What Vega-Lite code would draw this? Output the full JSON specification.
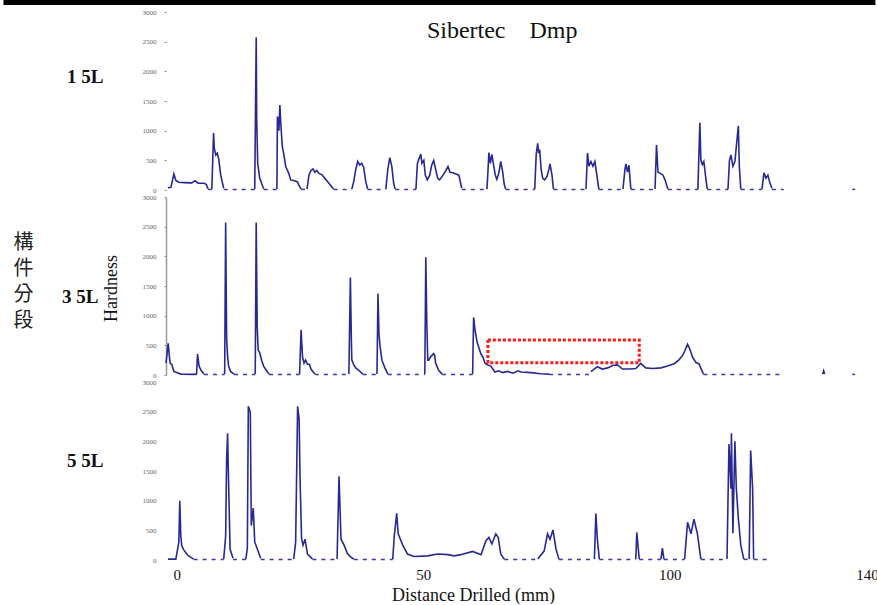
{
  "$schema": "https://vega.github.io/schema/vega-lite/v6.json",
  "padding": 0,
  "autosize": {"type": "pad"},
  "background": "white",
  "spacing": 0,
  "config": {
    "view": {"stroke": null},
    "font": "Liberation Serif",
    "axis": {"grid": false, "labelFont": "Liberation Serif", "titleFont": "Liberation Serif"}
  },
  "datasets": {
    "d": [
      {"s":1,"x":-1.8,"v":40},{"s":1,"x":-1.2,"v":45},{"s":1,"x":-0.6,"v":270},{"s":1,"x":-0.2,"v":160},{"s":1,"x":0.4,"v":130},{"s":1,"x":1.5,"v":125},{"s":1,"x":3,"v":120},{"s":1,"x":3.7,"v":155},{"s":1,"x":4.3,"v":115},{"s":1,"x":5.5,"v":115},{"s":1,"x":6.0,"v":90},{"s":1,"x":6.3,"v":20},
      {"s":1,"x":7.1,"v":15},{"s":1,"x":7.45,"v":960},{"s":1,"x":7.6,"v":700},{"s":1,"x":7.9,"v":590},{"s":1,"x":8.2,"v":620},{"s":1,"x":8.5,"v":520},{"s":1,"x":8.9,"v":250},{"s":1,"x":9.5,"v":30},
      {"s":1,"x":15.8,"v":15},{"s":1,"x":16.1,"v":2575},{"s":1,"x":16.2,"v":1200},{"s":1,"x":16.4,"v":455},{"s":1,"x":16.8,"v":200},{"s":1,"x":17.6,"v":20},
      {"s":1,"x":20.3,"v":15},{"s":1,"x":20.4,"v":1240},{"s":1,"x":20.7,"v":1000},{"s":1,"x":20.9,"v":1430},{"s":1,"x":21.1,"v":1100},{"s":1,"x":21.4,"v":730},{"s":1,"x":21.7,"v":600},{"s":1,"x":22.1,"v":390},{"s":1,"x":22.7,"v":280},{"s":1,"x":23.1,"v":170},{"s":1,"x":23.7,"v":160},{"s":1,"x":24.5,"v":135},{"s":1,"x":24.7,"v":90},{"s":1,"x":25.2,"v":15},
      {"s":1,"x":26.4,"v":15},{"s":1,"x":26.8,"v":250},{"s":1,"x":27.2,"v":330},{"s":1,"x":27.6,"v":355},{"s":1,"x":28.0,"v":300},{"s":1,"x":28.4,"v":330},{"s":1,"x":28.8,"v":280},{"s":1,"x":29.4,"v":260},{"s":1,"x":30.0,"v":200},{"s":1,"x":30.8,"v":120},{"s":1,"x":31.8,"v":15},
      {"s":1,"x":35.5,"v":15},{"s":1,"x":35.9,"v":150},{"s":1,"x":36.3,"v":350},{"s":1,"x":36.7,"v":480},{"s":1,"x":37.1,"v":420},{"s":1,"x":37.5,"v":450},{"s":1,"x":37.9,"v":380},{"s":1,"x":38.3,"v":150},{"s":1,"x":38.7,"v":15},
      {"s":1,"x":42.4,"v":15},{"s":1,"x":42.8,"v":350},{"s":1,"x":43.2,"v":545},{"s":1,"x":43.6,"v":400},{"s":1,"x":44.0,"v":100},{"s":1,"x":44.3,"v":15},
      {"s":1,"x":48.5,"v":15},{"s":1,"x":48.8,"v":450},{"s":1,"x":49.1,"v":520},{"s":1,"x":49.5,"v":605},{"s":1,"x":49.7,"v":450},{"s":1,"x":50.1,"v":500},{"s":1,"x":50.4,"v":250},{"s":1,"x":50.8,"v":170},{"s":1,"x":51.3,"v":250},{"s":1,"x":51.7,"v":420},{"s":1,"x":52.1,"v":495},{"s":1,"x":52.5,"v":350},{"s":1,"x":52.9,"v":200},{"s":1,"x":53.3,"v":170},{"s":1,"x":54.0,"v":250},{"s":1,"x":54.6,"v":330},{"s":1,"x":55.0,"v":395},{"s":1,"x":55.4,"v":300},{"s":1,"x":56.0,"v":290},{"s":1,"x":56.6,"v":270},{"s":1,"x":57.2,"v":250},{"s":1,"x":57.8,"v":30},
      {"s":1,"x":62.9,"v":15},{"s":1,"x":63.1,"v":300},{"s":1,"x":63.3,"v":630},{"s":1,"x":63.6,"v":450},{"s":1,"x":63.9,"v":600},{"s":1,"x":64.3,"v":400},{"s":1,"x":64.6,"v":250},{"s":1,"x":64.9,"v":180},{"s":1,"x":65.3,"v":280},{"s":1,"x":65.7,"v":480},{"s":1,"x":66.1,"v":300},{"s":1,"x":66.4,"v":100},{"s":1,"x":66.7,"v":15},
      {"s":1,"x":72.6,"v":15},{"s":1,"x":72.9,"v":600},{"s":1,"x":73.2,"v":785},{"s":1,"x":73.4,"v":620},{"s":1,"x":73.6,"v":680},{"s":1,"x":73.9,"v":350},{"s":1,"x":74.2,"v":200},{"s":1,"x":74.6,"v":170},{"s":1,"x":75.1,"v":230},{"s":1,"x":75.5,"v":360},{"s":1,"x":75.7,"v":440},{"s":1,"x":76.1,"v":250},{"s":1,"x":76.4,"v":15},
      {"s":1,"x":83.0,"v":15},{"s":1,"x":83.3,"v":625},{"s":1,"x":83.6,"v":400},{"s":1,"x":84.0,"v":480},{"s":1,"x":84.4,"v":400},{"s":1,"x":84.8,"v":480},{"s":1,"x":85.2,"v":250},{"s":1,"x":85.6,"v":15},
      {"s":1,"x":90.5,"v":15},{"s":1,"x":90.9,"v":350},{"s":1,"x":91.1,"v":440},{"s":1,"x":91.4,"v":300},{"s":1,"x":91.7,"v":420},{"s":1,"x":92.1,"v":15},
      {"s":1,"x":97.0,"v":15},{"s":1,"x":97.3,"v":760},{"s":1,"x":97.6,"v":300},{"s":1,"x":98.0,"v":285},{"s":1,"x":98.6,"v":250},{"s":1,"x":99.0,"v":180},{"s":1,"x":99.6,"v":15},
      {"s":1,"x":105.7,"v":15},{"s":1,"x":105.9,"v":600},{"s":1,"x":106.1,"v":1135},{"s":1,"x":106.3,"v":500},{"s":1,"x":106.6,"v":430},{"s":1,"x":106.9,"v":480},{"s":1,"x":107.3,"v":200},{"s":1,"x":107.6,"v":15},
      {"s":1,"x":111.8,"v":15},{"s":1,"x":112.1,"v":500},{"s":1,"x":112.4,"v":590},{"s":1,"x":112.8,"v":400},{"s":1,"x":113.2,"v":480},{"s":1,"x":113.9,"v":1080},{"s":1,"x":114.1,"v":400},{"s":1,"x":114.4,"v":15},
      {"s":1,"x":118.7,"v":15},{"s":1,"x":119.0,"v":220},{"s":1,"x":119.1,"v":290},{"s":1,"x":119.5,"v":200},{"s":1,"x":119.9,"v":250},{"s":1,"x":120.3,"v":120},{"s":1,"x":120.7,"v":30},
      {"s":1,"x":6.7,"v":null},{"s":1,"x":12.6,"v":null},{"s":1,"x":19.0,"v":null},{"s":1,"x":25.8,"v":null},{"s":1,"x":33.6,"v":null},{"s":1,"x":40.5,"v":null},{"s":1,"x":46.4,"v":null},{"s":1,"x":60.3,"v":null},{"s":1,"x":69.6,"v":null},{"s":1,"x":79.7,"v":null},{"s":1,"x":88.0,"v":null},{"s":1,"x":94.5,"v":null},{"s":1,"x":102.6,"v":null},{"s":1,"x":109.7,"v":null},{"s":1,"x":116.5,"v":null},

      {"s":3,"x":-2.2,"v":200},{"s":3,"x":-1.75,"v":535},{"s":3,"x":-1.5,"v":300},{"s":3,"x":-1.35,"v":200},{"s":3,"x":-1.0,"v":170},{"s":3,"x":-0.6,"v":60},{"s":3,"x":0.8,"v":15},{"s":3,"x":3.9,"v":10},
      {"s":3,"x":4.0,"v":20},{"s":3,"x":4.2,"v":355},{"s":3,"x":4.5,"v":150},{"s":3,"x":4.9,"v":80},{"s":3,"x":5.5,"v":15},
      {"s":3,"x":9.7,"v":15},{"s":3,"x":9.9,"v":2570},{"s":3,"x":10.1,"v":600},{"s":3,"x":10.3,"v":310},{"s":3,"x":10.5,"v":150},{"s":3,"x":10.9,"v":60},{"s":3,"x":11.6,"v":15},
      {"s":3,"x":15.9,"v":15},{"s":3,"x":16.1,"v":2570},{"s":3,"x":16.3,"v":800},{"s":3,"x":16.5,"v":420},{"s":3,"x":16.8,"v":380},{"s":3,"x":17.2,"v":250},{"s":3,"x":17.6,"v":150},{"s":3,"x":18.3,"v":60},{"s":3,"x":18.7,"v":15},
      {"s":3,"x":24.9,"v":15},{"s":3,"x":25.2,"v":760},{"s":3,"x":25.5,"v":300},{"s":3,"x":25.8,"v":200},{"s":3,"x":26.1,"v":250},{"s":3,"x":26.5,"v":180},{"s":3,"x":26.9,"v":180},{"s":3,"x":27.2,"v":100},{"s":3,"x":28.0,"v":15},
      {"s":3,"x":34.9,"v":15},{"s":3,"x":35.2,"v":1645},{"s":3,"x":35.4,"v":600},{"s":3,"x":35.5,"v":250},{"s":3,"x":35.9,"v":170},{"s":3,"x":36.3,"v":120},{"s":3,"x":36.9,"v":80},{"s":3,"x":37.7,"v":15},
      {"s":3,"x":40.6,"v":15},{"s":3,"x":40.8,"v":1375},{"s":3,"x":41.0,"v":700},{"s":3,"x":41.2,"v":500},{"s":3,"x":41.6,"v":250},{"s":3,"x":42.2,"v":120},{"s":3,"x":42.8,"v":15},
      {"s":3,"x":50.3,"v":15},{"s":3,"x":50.5,"v":1985},{"s":3,"x":50.7,"v":900},{"s":3,"x":50.9,"v":250},{"s":3,"x":51.1,"v":250},{"s":3,"x":51.5,"v":310},{"s":3,"x":52.1,"v":360},{"s":3,"x":52.3,"v":330},{"s":3,"x":52.5,"v":200},{"s":3,"x":53.1,"v":80},{"s":3,"x":53.8,"v":15},
      {"s":3,"x":60.0,"v":15},{"s":3,"x":60.2,"v":970},{"s":3,"x":60.5,"v":750},{"s":3,"x":60.6,"v":705},{"s":3,"x":60.9,"v":560},{"s":3,"x":61.3,"v":450},{"s":3,"x":61.7,"v":350},{"s":3,"x":62.1,"v":300},{"s":3,"x":62.5,"v":200},{"s":3,"x":63.1,"v":170},{"s":3,"x":63.7,"v":150},{"s":3,"x":64.5,"v":50},{"s":3,"x":65.3,"v":70},{"s":3,"x":66.1,"v":40},{"s":3,"x":67.1,"v":60},{"s":3,"x":68.2,"v":30},{"s":3,"x":69.2,"v":70},{"s":3,"x":69.8,"v":50},{"s":3,"x":71.8,"v":40},{"s":3,"x":73.8,"v":20},{"s":3,"x":75.5,"v":15},{"s":3,"x":84.0,"v":55},{"s":3,"x":85.3,"v":140},{"s":3,"x":86.3,"v":100},{"s":3,"x":87.4,"v":120},{"s":3,"x":88.4,"v":160},{"s":3,"x":89.4,"v":170},{"s":3,"x":90.4,"v":100},{"s":3,"x":91.8,"v":100},{"s":3,"x":93.1,"v":110},{"s":3,"x":94.1,"v":195},{"s":3,"x":95.1,"v":120},{"s":3,"x":96.5,"v":110},{"s":3,"x":98.2,"v":120},{"s":3,"x":99.5,"v":150},{"s":3,"x":100.9,"v":190},{"s":3,"x":101.9,"v":260},{"s":3,"x":102.6,"v":330},{"s":3,"x":103.0,"v":400},{"s":3,"x":103.6,"v":520},{"s":3,"x":104.1,"v":430},{"s":3,"x":104.6,"v":300},{"s":3,"x":105.3,"v":210},{"s":3,"x":105.9,"v":190},{"s":3,"x":106.8,"v":20},
      {"s":3,"x":7.6,"v":null},{"s":3,"x":13.7,"v":null},{"s":3,"x":21.8,"v":null},{"s":3,"x":31.4,"v":null},{"s":3,"x":39.1,"v":null},{"s":3,"x":46.5,"v":null},{"s":3,"x":56.9,"v":null},{"s":3,"x":79.7,"v":null},{"s":3,"x":115.0,"v":null},
      {"s":3,"x":131.0,"v":15},{"s":3,"x":131.2,"v":70},{"s":3,"x":131.4,"v":15},

      {"s":5,"x":-1.8,"v":15},{"s":5,"x":-0.2,"v":15},{"s":5,"x":0.4,"v":300},{"s":5,"x":0.6,"v":1000},{"s":5,"x":0.8,"v":400},{"s":5,"x":1.0,"v":240},{"s":5,"x":1.4,"v":170},{"s":5,"x":2.2,"v":80},{"s":5,"x":3.4,"v":15},
      {"s":5,"x":9.5,"v":15},{"s":5,"x":9.9,"v":400},{"s":5,"x":10.1,"v":1700},{"s":5,"x":10.3,"v":2135},{"s":5,"x":10.4,"v":1675},{"s":5,"x":10.8,"v":180},{"s":5,"x":11.4,"v":30},
      {"s":5,"x":14.0,"v":15},{"s":5,"x":14.3,"v":200},{"s":5,"x":14.5,"v":2590},{"s":5,"x":14.9,"v":2490},{"s":5,"x":15.1,"v":580},{"s":5,"x":15.5,"v":875},{"s":5,"x":15.8,"v":305},{"s":5,"x":16.4,"v":170},{"s":5,"x":17.0,"v":30},
      {"s":5,"x":23.7,"v":15},{"s":5,"x":24.1,"v":300},{"s":5,"x":24.5,"v":2590},{"s":5,"x":24.8,"v":2380},{"s":5,"x":25.0,"v":1365},{"s":5,"x":25.3,"v":355},{"s":5,"x":25.6,"v":250},{"s":5,"x":26.0,"v":350},{"s":5,"x":26.5,"v":100},{"s":5,"x":27.5,"v":20},
      {"s":5,"x":32.5,"v":15},{"s":5,"x":32.9,"v":1410},{"s":5,"x":33.3,"v":350},{"s":5,"x":33.9,"v":255},{"s":5,"x":34.6,"v":110},{"s":5,"x":35.3,"v":50},{"s":5,"x":35.9,"v":15},
      {"s":5,"x":43.8,"v":15},{"s":5,"x":44.1,"v":400},{"s":5,"x":44.6,"v":785},{"s":5,"x":44.9,"v":440},{"s":5,"x":45.8,"v":255},{"s":5,"x":46.8,"v":100},{"s":5,"x":48.1,"v":60},{"s":5,"x":50.9,"v":70},{"s":5,"x":52.9,"v":100},{"s":5,"x":55.0,"v":90},{"s":5,"x":56.2,"v":70},{"s":5,"x":57.6,"v":90},{"s":5,"x":60.0,"v":145},{"s":5,"x":61.7,"v":90},{"s":5,"x":62.7,"v":325},{"s":5,"x":63.3,"v":380},{"s":5,"x":63.9,"v":270},{"s":5,"x":64.7,"v":440},{"s":5,"x":65.2,"v":380},{"s":5,"x":65.7,"v":100},{"s":5,"x":66.4,"v":15},
      {"s":5,"x":73.2,"v":15},{"s":5,"x":74.5,"v":150},{"s":5,"x":75.2,"v":440},{"s":5,"x":75.7,"v":350},{"s":5,"x":76.3,"v":505},{"s":5,"x":76.9,"v":190},{"s":5,"x":77.5,"v":15},
      {"s":5,"x":84.7,"v":15},{"s":5,"x":85.0,"v":785},{"s":5,"x":85.3,"v":350},{"s":5,"x":85.7,"v":15},
      {"s":5,"x":93.1,"v":15},{"s":5,"x":93.3,"v":465},{"s":5,"x":93.8,"v":15},
      {"s":5,"x":98.2,"v":15},{"s":5,"x":98.5,"v":200},{"s":5,"x":98.8,"v":15},
      {"s":5,"x":103.0,"v":15},{"s":5,"x":103.6,"v":635},{"s":5,"x":104.3,"v":440},{"s":5,"x":104.9,"v":690},{"s":5,"x":105.6,"v":440},{"s":5,"x":106.3,"v":15},
      {"s":5,"x":111.6,"v":15},{"s":5,"x":112.0,"v":1955},{"s":5,"x":112.4,"v":1200},{"s":5,"x":112.5,"v":2135},{"s":5,"x":112.8,"v":450},{"s":5,"x":113.2,"v":2000},{"s":5,"x":113.5,"v":1200},{"s":5,"x":113.9,"v":700},{"s":5,"x":114.4,"v":250},{"s":5,"x":115.0,"v":15},
      {"s":5,"x":116.1,"v":15},{"s":5,"x":116.4,"v":1845},{"s":5,"x":116.8,"v":1200},{"s":5,"x":117.0,"v":15},
      {"s":5,"x":6.4,"v":null},{"s":5,"x":12.7,"v":null},{"s":5,"x":20.3,"v":null},{"s":5,"x":30.0,"v":null},{"s":5,"x":39.8,"v":null},{"s":5,"x":69.8,"v":null},{"s":5,"x":81.1,"v":null},{"s":5,"x":89.4,"v":null},{"s":5,"x":96.0,"v":null},{"s":5,"x":100.9,"v":null},{"s":5,"x":108.9,"v":null},{"s":5,"x":115.5,"v":null}
    ],
    "gaps": [
      {"s":1,"a":6.3,"b":7.1,"v":10},{"s":1,"a":9.5,"b":15.8,"v":10},{"s":1,"a":17.6,"b":20.3,"v":10},{"s":1,"a":25.2,"b":26.4,"v":10},{"s":1,"a":31.8,"b":35.5,"v":10},{"s":1,"a":38.7,"b":42.4,"v":10},{"s":1,"a":44.3,"b":48.5,"v":10},{"s":1,"a":57.8,"b":62.9,"v":10},{"s":1,"a":66.7,"b":72.6,"v":10},{"s":1,"a":76.4,"b":83.0,"v":10},{"s":1,"a":85.6,"b":90.5,"v":10},{"s":1,"a":92.1,"b":97.0,"v":10},{"s":1,"a":99.6,"b":105.7,"v":10},{"s":1,"a":107.6,"b":111.8,"v":10},{"s":1,"a":114.4,"b":118.7,"v":10},{"s":1,"a":120.7,"b":123.1,"v":10},{"s":1,"a":137.0,"b":137.6,"v":10},
      {"s":3,"a":5.5,"b":9.7,"v":10},{"s":3,"a":11.6,"b":15.9,"v":10},{"s":3,"a":18.7,"b":24.9,"v":10},{"s":3,"a":28.0,"b":34.9,"v":10},{"s":3,"a":37.7,"b":40.6,"v":10},{"s":3,"a":42.8,"b":50.3,"v":10},{"s":3,"a":53.8,"b":60.0,"v":10},{"s":3,"a":75.5,"b":84.0,"v":10},{"s":3,"a":106.8,"b":123.0,"v":10},{"s":3,"a":137.0,"b":137.6,"v":10},
      {"s":5,"a":3.4,"b":9.5,"v":10},{"s":5,"a":11.4,"b":14.0,"v":10},{"s":5,"a":17.0,"b":23.7,"v":10},{"s":5,"a":27.5,"b":32.5,"v":10},{"s":5,"a":35.9,"b":43.8,"v":10},{"s":5,"a":66.4,"b":73.2,"v":10},{"s":5,"a":77.5,"b":84.7,"v":10},{"s":5,"a":85.7,"b":93.1,"v":10},{"s":5,"a":93.8,"b":98.2,"v":10},{"s":5,"a":98.8,"b":103.0,"v":10},{"s":5,"a":106.3,"b":111.6,"v":10},{"s":5,"a":115.0,"b":116.1,"v":10},{"s":5,"a":117.0,"b":120.3,"v":10}
    ],
    "box": [{"x1": 63.1, "x2": 93.8, "y1": 207, "y2": 590}],
    "bar": [{"a": -35.17, "b": 141.7, "y": 3160}],
    "ghost": [{"a": -35.17, "b": 141.7, "y": 1500}],
    "ttl": [{"x": 66.0, "y": 2562, "t": "Sibertec\u00a0\u00a0\u00a0 Dmp"}]
  },
  "vconcat": [
    {
      "width": 701,
      "height": 178,
      "layer": [
        {
          "data": {"name": "gaps"},
          "transform": [{"filter": "datum.s == 1"}],
          "mark": {"type": "rule", "color": "#3a3aa2", "strokeWidth": 1.5, "strokeDash": [4, 5]},
          "encoding": {
            "x": {"field": "a", "type": "quantitative", "scale": {"domain": [-2.2, 140], "nice": false, "zero": false}, "axis": null},
            "x2": {"field": "b"},
            "y": {"field": "v", "type": "quantitative", "scale": {"domain": [0, 3000], "nice": false},
              "axis": {"values": [0, 500, 1000, 1500, 2000, 2500, 3000], "format": "d", "labelFontSize": 7, "labelColor": "#666", "tickSize": 2, "tickColor": "#888", "domain": false, "labelPadding": 8,
                "title": "1 5L", "titleAngle": 0, "titleX": -63, "titleY": 64, "titleAlign": "right", "titleBaseline": "middle", "titleFontSize": 19, "titleFontWeight": "bold", "titleColor": "#111"}}
          }
        },
        {
          "data": {"name": "d"},
          "transform": [{"filter": "datum.s == 1"}],
          "mark": {"type": "line", "color": "#282894", "strokeWidth": 1.6, "invalid": "break-paths-show-domains"},
          "encoding": {
            "x": {"field": "x", "type": "quantitative", "scale": {"domain": [-2.2, 140], "nice": false, "zero": false}, "axis": null},
            "y": {"field": "v", "type": "quantitative", "scale": {"domain": [0, 3000], "nice": false},
              "axis": {"values": [0, 500, 1000, 1500, 2000, 2500, 3000], "format": "d", "labelFontSize": 7, "labelColor": "#666", "tickSize": 2, "tickColor": "#888", "domain": false, "labelPadding": 8,
                "title": "1 5L", "titleAngle": 0, "titleX": -63, "titleY": 64, "titleAlign": "right", "titleBaseline": "middle", "titleFontSize": 19, "titleFontWeight": "bold", "titleColor": "#111"}}
          }
        },
        {
          "data": {"name": "bar"},
          "mark": {"type": "rule", "color": "black", "strokeWidth": 5},
          "encoding": {
            "x": {"field": "a", "type": "quantitative", "scale": {"domain": [-2.2, 140], "nice": false, "zero": false}, "axis": null},
            "x2": {"field": "b"},
            "y": {"field": "y", "type": "quantitative", "scale": {"domain": [0, 3000], "nice": false},
              "axis": {"values": [0, 500, 1000, 1500, 2000, 2500, 3000], "format": "d", "labelFontSize": 7, "labelColor": "#666", "tickSize": 2, "tickColor": "#888", "domain": false, "labelPadding": 8,
                "title": "1 5L", "titleAngle": 0, "titleX": -63, "titleY": 64, "titleAlign": "right", "titleBaseline": "middle", "titleFontSize": 19, "titleFontWeight": "bold", "titleColor": "#111"}}
          }
        },
        {
          "data": {"name": "ttl"},
          "mark": {"type": "text", "font": "Liberation Serif", "fontSize": 24, "baseline": "alphabetic", "align": "center", "color": "#111"},
          "encoding": {
            "x": {"field": "x", "type": "quantitative", "scale": {"domain": [-2.2, 140], "nice": false, "zero": false}, "axis": null},
            "y": {"field": "y", "type": "quantitative", "scale": {"domain": [0, 3000], "nice": false},
              "axis": {"values": [0, 500, 1000, 1500, 2000, 2500, 3000], "format": "d", "labelFontSize": 7, "labelColor": "#666", "tickSize": 2, "tickColor": "#888", "domain": false, "labelPadding": 8,
                "title": "1 5L", "titleAngle": 0, "titleX": -63, "titleY": 64, "titleAlign": "right", "titleBaseline": "middle", "titleFontSize": 19, "titleFontWeight": "bold", "titleColor": "#111"}},
            "text": {"field": "t", "type": "nominal"}
          }
        }
      ]
    },
    {
      "width": 701,
      "height": 178,
      "layer": [
        {
          "data": {"name": "d"},
          "transform": [{"filter": "datum.s == 3"}],
          "mark": {"type": "line", "color": "#282894", "strokeWidth": 1.6, "invalid": "break-paths-show-domains"},
          "encoding": {
            "x": {"field": "x", "type": "quantitative", "scale": {"domain": [-2.2, 140], "nice": false, "zero": false}, "axis": null},
            "y": {"field": "v", "type": "quantitative", "scale": {"domain": [0, 3000], "nice": false},
              "axis": {"orient": "left", "values": [0, 500, 1000, 1500, 2000, 2500, 3000], "format": "d", "labelFontSize": 7, "labelColor": "#666", "tickSize": 2, "tickColor": "#888", "domain": true, "domainColor": "#999", "domainWidth": 1.5, "labelPadding": 8,
                "title": "Hardness", "titleAngle": -90, "titleX": -55, "titleY": 91, "titleAlign": "center", "titleBaseline": "middle", "titleFontSize": 18, "titleFontWeight": "normal", "titleColor": "#111"}}
          }
        },
        {
          "data": {"name": "gaps"},
          "transform": [{"filter": "datum.s == 3"}],
          "mark": {"type": "rule", "color": "#3a3aa2", "strokeWidth": 1.5, "strokeDash": [4, 5]},
          "encoding": {
            "x": {"field": "a", "type": "quantitative", "scale": {"domain": [-2.2, 140], "nice": false, "zero": false}, "axis": null},
            "x2": {"field": "b"},
            "y": {"field": "v", "type": "quantitative", "scale": {"domain": [0, 3000], "nice": false},
              "axis": {"orient": "left", "labels": false, "ticks": false, "domain": false, "title": ""}}
          }
        },
        {
          "data": {"name": "box"},
          "mark": {"type": "rect", "fill": "transparent", "stroke": "#ff1a1a", "strokeWidth": 3, "strokeDash": [3, 2]},
          "encoding": {
            "x": {"field": "x1", "type": "quantitative", "scale": {"domain": [-2.2, 140], "nice": false, "zero": false}, "axis": null},
            "x2": {"field": "x2"},
            "y": {"field": "y1", "type": "quantitative", "scale": {"domain": [0, 3000], "nice": false},
              "axis": {"orient": "left", "labels": false, "ticks": false, "domain": false, "title": "3 5L", "titleAngle": 0, "titleX": -68, "titleY": 99, "titleAlign": "right", "titleBaseline": "middle", "titleFontSize": 19, "titleFontWeight": "bold", "titleColor": "#111"}},
            "y2": {"field": "y2"}
          }
        },
        {
          "data": {"name": "ghost"},
          "mark": {"type": "rule", "color": "white", "strokeWidth": 5, "strokeOpacity": 0},
          "encoding": {
            "x": {"field": "a", "type": "quantitative", "scale": {"domain": [-2.2, 140], "nice": false, "zero": false}, "axis": null},
            "x2": {"field": "b"},
            "y": {"field": "y", "type": "quantitative", "scale": {"domain": [0, 3000], "nice": false},
              "axis": {"orient": "left", "labels": false, "ticks": false, "domain": false, "title": ["構", "件", "分", "段"], "titleAngle": 0, "titleX": -143, "titleY": 45, "titleAlign": "center", "titleBaseline": "middle", "titleFont": "Noto Sans CJK TC", "titleFontSize": 20, "titleLineHeight": 26, "titleFontWeight": "normal", "titleColor": "#222"}}
          }
        }
      ],
      "resolve": {"axis": {"y": "independent"}}
    },
    {
      "width": 701,
      "height": 178,
      "layer": [
        {
          "data": {"name": "gaps"},
          "transform": [{"filter": "datum.s == 5"}],
          "mark": {"type": "rule", "color": "#3a3aa2", "strokeWidth": 1.5, "strokeDash": [4, 5]},
          "encoding": {
            "x": {"field": "a", "type": "quantitative", "scale": {"domain": [-2.2, 140], "nice": false, "zero": false},
              "axis": {"values": [0, 50, 100, 140], "labelFontSize": 15, "labelColor": "#111", "ticks": false, "domain": false, "labelPadding": 7, "labelFlush": false,
                "title": "Distance Drilled (mm)", "titleFontSize": 18, "titleFontWeight": "normal", "titlePadding": 4, "titleX": 307, "titleColor": "#111"}},
            "x2": {"field": "b"},
            "y": {"field": "v", "type": "quantitative", "scale": {"domain": [0, 3000], "nice": false},
              "axis": {"values": [0, 500, 1000, 1500, 2000, 2500, 3000], "format": "d", "labelFontSize": 7, "labelColor": "#666", "ticks": false, "domain": false, "labelPadding": 10,
                "title": "5 5L", "titleAngle": 0, "titleX": -63, "titleY": 78, "titleAlign": "right", "titleBaseline": "middle", "titleFontSize": 19, "titleFontWeight": "bold", "titleColor": "#111"}}
          }
        },
        {
          "data": {"name": "d"},
          "transform": [{"filter": "datum.s == 5"}],
          "mark": {"type": "line", "color": "#282894", "strokeWidth": 1.6, "invalid": "break-paths-show-domains"},
          "encoding": {
            "x": {"field": "x", "type": "quantitative", "scale": {"domain": [-2.2, 140], "nice": false, "zero": false},
              "axis": {"values": [0, 50, 100, 140], "labelFontSize": 15, "labelColor": "#111", "ticks": false, "domain": false, "labelPadding": 7, "labelFlush": false,
                "title": "Distance Drilled (mm)", "titleFontSize": 18, "titleFontWeight": "normal", "titlePadding": 4, "titleX": 307, "titleColor": "#111"}},
            "y": {"field": "v", "type": "quantitative", "scale": {"domain": [0, 3000], "nice": false},
              "axis": {"values": [0, 500, 1000, 1500, 2000, 2500, 3000], "format": "d", "labelFontSize": 7, "labelColor": "#666", "ticks": false, "domain": false, "labelPadding": 10,
                "title": "5 5L", "titleAngle": 0, "titleX": -63, "titleY": 78, "titleAlign": "right", "titleBaseline": "middle", "titleFontSize": 19, "titleFontWeight": "bold", "titleColor": "#111"}}
          }
        },
        {
          "data": {"name": "ghost"},
          "mark": {"type": "rule", "color": "white", "strokeWidth": 5, "strokeOpacity": 0},
          "encoding": {
            "x": {"field": "a", "type": "quantitative", "scale": {"domain": [-2.2, 140], "nice": false, "zero": false},
              "axis": {"values": [0, 50, 100, 140], "labelFontSize": 15, "labelColor": "#111", "ticks": false, "domain": false, "labelPadding": 7, "labelFlush": false,
                "title": "Distance Drilled (mm)", "titleFontSize": 18, "titleFontWeight": "normal", "titlePadding": 4, "titleX": 307, "titleColor": "#111"}},
            "x2": {"field": "b"},
            "y": {"field": "y", "type": "quantitative", "scale": {"domain": [0, 3000], "nice": false},
              "axis": {"values": [0, 500, 1000, 1500, 2000, 2500, 3000], "format": "d", "labelFontSize": 7, "labelColor": "#666", "ticks": false, "domain": false, "labelPadding": 10,
                "title": "5 5L", "titleAngle": 0, "titleX": -63, "titleY": 78, "titleAlign": "right", "titleBaseline": "middle", "titleFontSize": 19, "titleFontWeight": "bold", "titleColor": "#111"}}
          }
        }
      ]
    }
  ]
}
